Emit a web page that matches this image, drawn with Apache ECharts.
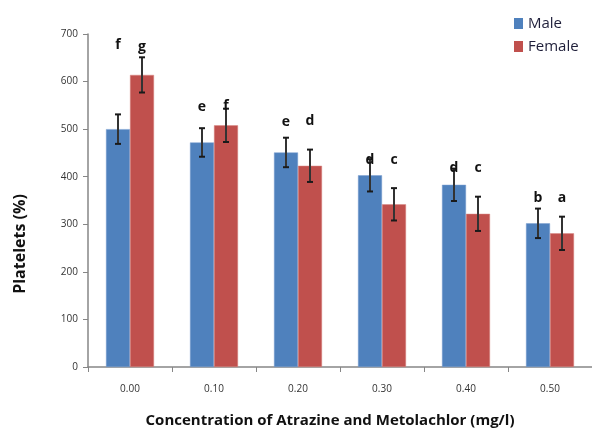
<!DOCTYPE html>
<html><head><meta charset="utf-8">
<script src="https://cdn.jsdelivr.net/npm/echarts@6/dist/echarts.min.js"></script>
<style>html,body{margin:0;padding:0;background:#fff}#c{width:592px;height:430px}</style>
</head><body><div id="c"></div>
<script>
const categories = ['0.00','0.10','0.20','0.30','0.40','0.50'];
const maleValues = [500, 472, 451, 403, 383, 302];
const femaleValues = [614, 508, 423, 342, 322, 281];
const maleErr = [31, 30, 31, 34, 34, 31];
const femaleErr = [37, 35, 34, 34, 36, 35];
const maleLetters = ['f','e','e','d','d','b'];
const femaleLetters = ['g','f','d','c','c','a'];
const maleLetterY = [677, 547, 515, 435, 418, 355];
const femaleLetterY = [673, 549, 517, 435, 418, 355];
const yTicks = [0,100,200,300,400,500,600,700];

const chart = echarts.init(document.getElementById('c'));
const BAR_OFF = 12;
function errItem(off){
  return function(params, api){
    const i = api.value(0);
    const v = api.value(1), e = api.value(2);
    const c = api.coord([i, v]);
    const top = api.coord([i, v + e])[1];
    const bot = api.coord([i, v - e])[1];
    const x = c[0] + off;
    const st = {stroke:'#1a1a1a', lineWidth:2};
    return {type:'group', children:[
      {type:'line', shape:{x1:x,y1:top,x2:x,y2:bot}, style:{stroke:'#333', lineWidth:2}},
      {type:'line', shape:{x1:x-3,y1:top,x2:x+3,y2:top}, style:st},
      {type:'line', shape:{x1:x-3,y1:bot,x2:x+3,y2:bot}, style:st}
    ]};
  };
}
function letterItem(off, letters){
  return function(params, api){
    const i = api.value(0);
    const c = api.coord([i, api.value(1)]);
    return {type:'text', x:c[0]+off, y:c[1], style:{text:letters[params.dataIndex], fill:'#111', font:'bold 14px "Open Sans", sans-serif', align:'center', verticalAlign:'middle'}};
  };
}
chart.setOption({
  animation:false,
  backgroundColor:'#fff',
  grid:{left:88, right:0, top:34, bottom:63, containLabel:false, outerBoundsMode:'none'},
  legend:{
    orient:'vertical', left:509, top:11, itemWidth:9, itemHeight:11, itemGap:8, icon:'rect',
    itemStyle:{borderWidth:0},
    data:['Male','Female'],
    textStyle:{fontFamily:'Open Sans', fontSize:15, color:'#1f1f3a'}
  },
  xAxis:{
    type:'category', data:categories,
    axisLine:{lineStyle:{color:'#868686', width:1.5}},
    axisTick:{show:true, length:5, lineStyle:{color:'#868686'}},
    axisLabel:{color:'#333', fontSize:10, fontFamily:'Open Sans', margin:17},
    name:'Concentration of Atrazine and Metolachlor (mg/l)', nameLocation:'middle', nameGap:46,
    nameTextStyle:{fontFamily:'Open Sans', fontWeight:'bold', fontSize:15, color:'#111', padding:[0,20,0,0]}
  },
  yAxis:{
    type:'value', min:0, max:700, interval:100,
    splitLine:{show:false},
    axisLine:{show:true, lineStyle:{color:'#868686', width:1.5}},
    axisTick:{show:true, length:5, lineStyle:{color:'#868686'}},
    axisLabel:{color:'#333', fontSize:10, fontFamily:'Open Sans', margin:10}
  },
  graphic:[{type:'text', x:20, y:244, rotation:Math.PI/2, style:{text:'Platelets (%)', font:'bold 16px "Open Sans", sans-serif', fill:'#111', align:'center', verticalAlign:'middle'}}],
  series:[
    {name:'Male', type:'bar', data:maleValues, barWidth:24, barGap:'0%', itemStyle:{color:'#4F81BD', borderColor:'#7a9fd0', borderWidth:0.5}},
    {name:'Female', type:'bar', data:femaleValues, barWidth:24, itemStyle:{color:'#C0504D', borderColor:'#d98885', borderWidth:0.5}},
    {type:'custom', renderItem:errItem(-BAR_OFF), data:maleValues.map((v,i)=>[i,v,maleErr[i]]), z:5},
    {type:'custom', renderItem:errItem(BAR_OFF), data:femaleValues.map((v,i)=>[i,v,femaleErr[i]]), z:5},
    {type:'custom', renderItem:letterItem(-BAR_OFF, maleLetters), data:maleLetterY.map((v,i)=>[i,v]), z:6},
    {type:'custom', renderItem:letterItem(BAR_OFF, femaleLetters), data:femaleLetterY.map((v,i)=>[i,v]), z:6}
  ]
});
</script></body></html>
